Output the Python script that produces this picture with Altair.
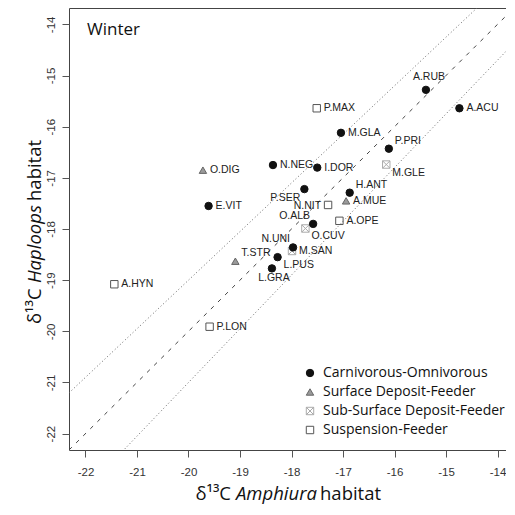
import altair as alt
import pandas as pd

# ---- data ----
names = ["A.RUB", "A.ACU", "P.MAX", "M.GLA", "P.PRI", "M.GLE", "N.NEG", "I.DOR",
         "O.DIG", "H.ANT", "A.MUE", "P.SER", "E.VIT", "N.NIT", "O.ALB", "O.CUV",
         "A.OPE", "N.UNI", "M.SAN", "T.STR", "L.PUS", "L.GRA", "A.HYN", "P.LON"]
amphiura = [-15.39, -14.74, -17.51, -17.04, -16.11, -16.16, -18.36, -17.50,
            -19.72, -16.87, -16.94, -17.75, -19.61, -17.29, -17.58, -17.73,
            -17.07, -17.97, -17.99, -19.09, -18.27, -18.38, -21.44, -19.59]
haploops = [-15.28, -15.64, -15.64, -16.12, -16.43, -16.74, -16.75, -16.80,
            -16.85, -17.29, -17.45, -17.22, -17.55, -17.53, -17.90, -17.99,
            -17.84, -18.36, -18.43, -18.63, -18.55, -18.77, -19.08, -19.91]
C, SF, SSF, SUS = ("Carnivorous-Omnivorous", "Surface Deposit-Feeder",
                   "Sub-Surface Deposit-Feeder", "Suspension-Feeder")
groups = [C, C, SUS, C, C, SSF, C, C,
          SF, C, SF, C, C, SUS, C, SSF,
          SUS, C, SSF, SF, C, C, SUS, SUS]
label_pos = ["a", "r", "r", "r", "ur", "dr", "r", "r",
             "r", "ur", "r", "dl", "r", "l", "ul", "dr",
             "r", "ul", "r", "ur", "dr", "b", "r", "r"]
group_order = [C, SF, SSF, SUS]

ticks = [-22, -21, -20, -19, -18, -17, -16, -15, -14]
domain = [-22.32, -13.68]
ref_slopes = [1.0, 0.95, 1.05]
ref_style = ["dashed", "dotted", "dotted"]

df = pd.DataFrame({"name": names, "x": amphiura, "y": haploops,
                   "group": groups, "pos": label_pos})
lines = pd.DataFrame([{"slope": s, "style": st, "x": d}
                      for s, st in zip(ref_slopes, ref_style) for d in domain])

W, H = 445, 442
xs = alt.Scale(domain=domain, nice=False, zero=False)
ys = alt.Scale(domain=domain, nice=False, zero=False)

xaxis = alt.Axis(values=ticks, title=None, grid=False, domain=False,
                 tickSize=7, tickColor="#555", labelFont="Liberation Sans",
                 labelFontSize=11.5, labelColor="#333", labelPadding=9,
                 labelExpr="datum.value + ''")
yaxis = alt.Axis(values=ticks, title=None, grid=False, domain=False,
                 tickSize=7, tickColor="#555", labelFont="Liberation Sans",
                 labelFontSize=11.5, labelColor="#333", labelPadding=11,
                 labelAngle=270, labelAlign="center", labelBaseline="middle",
                 labelExpr="datum.value + ''")

dash_line = alt.Chart(lines).transform_filter(alt.datum.style == "dashed").transform_calculate(
    yv="datum.slope * datum.x").mark_line(clip=True, color="#444", strokeWidth=1,
                                           strokeDash=[4, 6]).encode(
    x=alt.X("x:Q", scale=xs, axis=xaxis),
    y=alt.Y("yv:Q", scale=ys, axis=yaxis),
    detail="slope:N")
dot_line = alt.Chart(lines).transform_filter(alt.datum.style == "dotted").transform_calculate(
    yv="datum.slope * datum.x").mark_line(clip=True, color="#666", strokeWidth=1,
                                           strokeDash=[1, 2.5]).encode(
    x=alt.X("x:Q", scale=xs), y=alt.Y("yv:Q", scale=ys), detail="slope:N")

xsq = "M-1,-1H1V1H-1Z M-1,-1L1,1 M-1,1L1,-1"
points = alt.Chart(df).mark_point(filled=True, size=55, strokeWidth=1, opacity=1).encode(
    x=alt.X("x:Q", scale=xs),
    y=alt.Y("y:Q", scale=ys),
    shape=alt.Shape("group:N", scale=alt.Scale(domain=group_order,
                    range=["circle", "triangle-up", xsq, "square"]), legend=alt.Legend(
        title=None, orient="none", legendX=234, legendY=358, labelFont="Open Sans",
        labelFontSize=14, labelColor="#111", symbolSize=55, rowPadding=5,
        symbolStrokeWidth=1, labelOffset=6, padding=0, labelLimit=0)),
    fill=alt.Fill("group:N", scale=alt.Scale(domain=group_order,
                  range=["#111111", "#9a9a9a", "transparent", "transparent"]), legend=None),
    stroke=alt.Stroke("group:N", scale=alt.Scale(domain=group_order,
                      range=["#111111", "#666666", "#aaaaaa", "#555555"]), legend=None),
    order=alt.Order("ord:Q"),
).transform_calculate(ord="datum.group == 'Carnivorous-Omnivorous' ? 1 : 0")

pos_style = {
    "r": dict(align="left", baseline="middle", dx=7, dy=0),
    "l": dict(align="right", baseline="middle", dx=-7, dy=1),
    "a": dict(align="center", baseline="middle", dx=3, dy=-13),
    "b": dict(align="center", baseline="middle", dx=2, dy=10),
    "ur": dict(align="left", baseline="middle", dx=6, dy=-8),
    "dr": dict(align="left", baseline="middle", dx=6, dy=8),
    "ul": dict(align="right", baseline="middle", dx=-3, dy=-8),
    "dl": dict(align="right", baseline="middle", dx=-4, dy=9),
}
label_layers = []
for p, st in pos_style.items():
    label_layers.append(
        alt.Chart(df).transform_filter(alt.datum.pos == p).mark_text(
            font="Liberation Sans", fontSize=10.5, color="#222", **st).encode(
            x=alt.X("x:Q", scale=xs), y=alt.Y("y:Q", scale=ys), text="name:N"))

def txt(t, x, y, **kw):
    return alt.Chart(pd.DataFrame({"t": [t]})).mark_text(
        font="Open Sans", color="#111", **kw).encode(
        x=alt.value(x), y=alt.value(y), text="t:N")

tfs = 18.5
titles = [
    txt("Winter", 18, 22, fontSize=17, align="left", baseline="middle"),
    txt("δ¹³C", 162, 486, fontSize=tfs, align="right", baseline="middle"),
    txt("Amphiura", 167, 486, fontSize=tfs, align="left", baseline="middle", fontStyle="italic"),
    txt("habitat", 251, 486, fontSize=tfs, align="left", baseline="middle"),
    txt("δ¹³C", -34, 316, fontSize=tfs, align="left", baseline="middle", angle=270),
    txt("Haploops", -34, 275, fontSize=tfs, align="left", baseline="middle", angle=270,
        fontStyle="italic"),
    txt("habitat", -34, 193, fontSize=tfs, align="left", baseline="middle", angle=270),
]

chart = alt.layer(dash_line, dot_line, points, *label_layers, *titles).properties(
    width=W, height=H,
    autosize=alt.AutoSizeParams(type="none"),
    padding={"left": 61, "top": 0, "right": -8, "bottom": 57},
).configure_view(stroke="#444", strokeWidth=1).resolve_scale(
    shape="shared", fill="shared", stroke="shared")

chart.save("out.html", embed_options={"renderer": "svg", "actions": False})
